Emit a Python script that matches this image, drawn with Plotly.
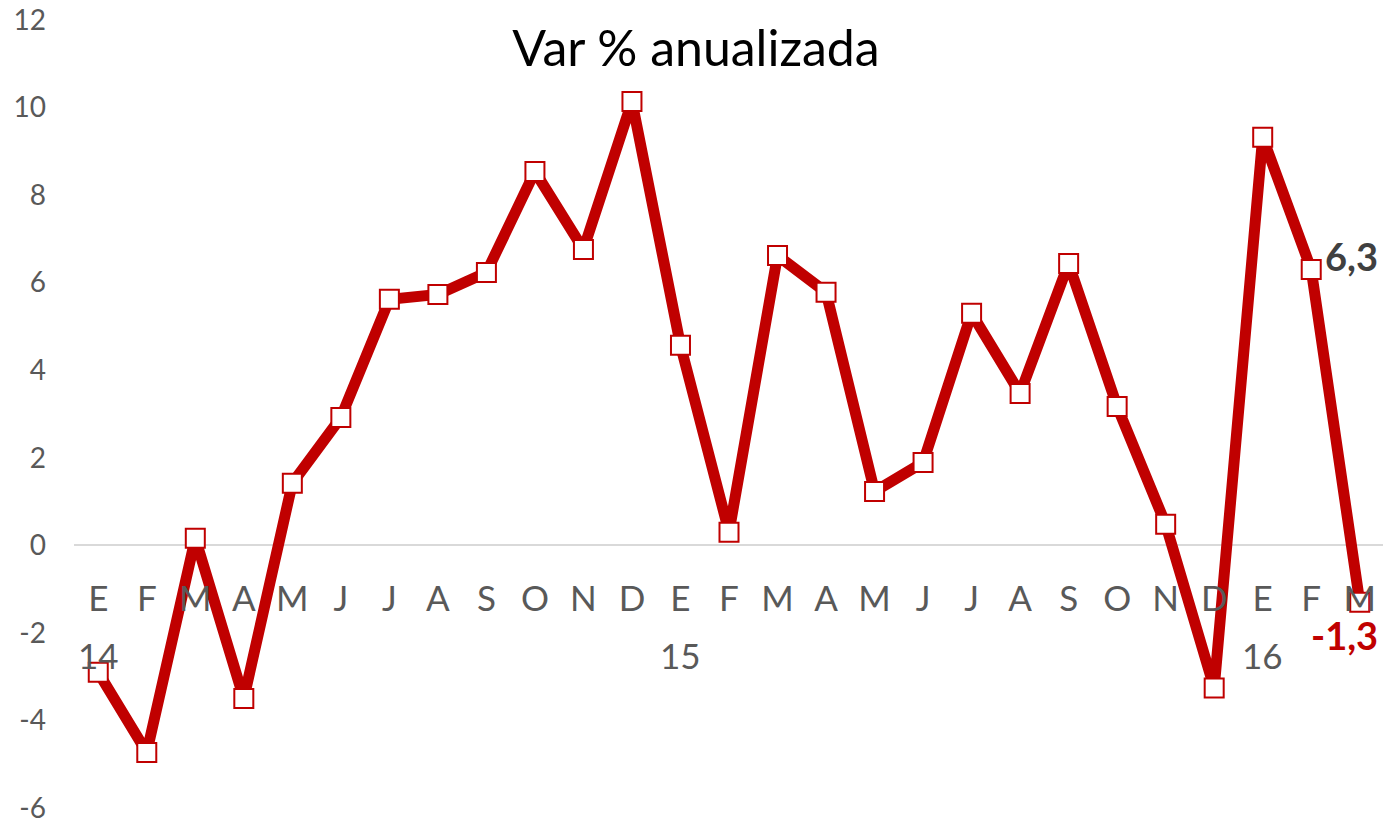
import plotly.graph_objects as go

months = ["E","F","M","A","M","J","J","A","S","O","N","D",
          "E","F","M","A","M","J","J","A","S","O","N","D",
          "E","F","M"]
years = ["14", "15", "16"]
year_pos = [0, 12, 24]
values = [-2.9, -4.73, 0.16, -3.5, 1.42, 2.92, 5.62, 5.73, 6.23, 8.54, 6.76, 10.14,
          4.57, 0.30, 6.62, 5.78, 1.23, 1.89, 5.30, 3.47, 6.44, 3.17, 0.48, -3.26,
          9.32, 6.3, -1.3]
y_ticks = [-6, -4, -2, 0, 2, 4, 6, 8, 10, 12]
y_ticktext = [str(v) for v in y_ticks]

RED = "#C00000"
GRAY = "#595959"
FONT = "Lato"

W, H = 1391, 820

x = list(range(len(values)))

fig = go.Figure()
fig.add_trace(go.Scatter(
    x=x, y=values, mode="lines+markers",
    line=dict(color=RED, width=11),
    marker=dict(symbol="square", size=19, color="white",
                line=dict(color=RED, width=2)),
    showlegend=False, hoverinfo="skip", cliponaxis=False,
))

# year labels
for yr, p in zip(years, year_pos):
    fig.add_annotation(x=p, y=-2.5, xref="x", yref="y", text=yr, showarrow=False,
                       font=dict(family=FONT, size=35, color=GRAY))

# data labels
fig.add_annotation(x=x[-2], y=values[-2], text="<b>6,3</b>", showarrow=False,
                   xanchor="left", xshift=12, yshift=14,
                   font=dict(family=FONT, size=38, color="#404040"))
fig.add_annotation(x=x[-1], y=values[-1], text="<b>-1,3</b>", showarrow=False,
                   xanchor="center", xshift=-15, yshift=-33,
                   font=dict(family=FONT, size=38, color=RED))

fig.update_layout(
    width=W, height=H,
    margin=dict(l=66, r=15, t=12, b=20, autoexpand=False),
    paper_bgcolor="white", plot_bgcolor="white",
    title=dict(text="Var % anualizada", x=688 / W, xanchor="center",
               y=1 - 40 / H, yanchor="middle", yref="container",
               font=dict(family=FONT, size=50, color="black")),
    xaxis=dict(range=[-0.5, len(values) - 0.5], tickmode="array",
               tickvals=x, ticktext=months, showgrid=False, zeroline=False,
               showline=False, ticks="", anchor="free", position=1/3,
               ticklabelstandoff=30, automargin=False,
               ticklabeloverflow="allow",
               tickfont=dict(family=FONT, size=35, color=GRAY)),
    yaxis=dict(range=[-6, 12], tickmode="array", tickvals=y_ticks,
               ticktext=y_ticktext,
               showgrid=False, zeroline=True, zerolinecolor="#D9D9D9",
               zerolinewidth=2, showline=False, ticks="",
               ticklabelstandoff=27, automargin=False,
               ticklabeloverflow="allow",
               tickfont=dict(family=FONT, size=28, color=GRAY)),
)

fig.write_html("out.html")
